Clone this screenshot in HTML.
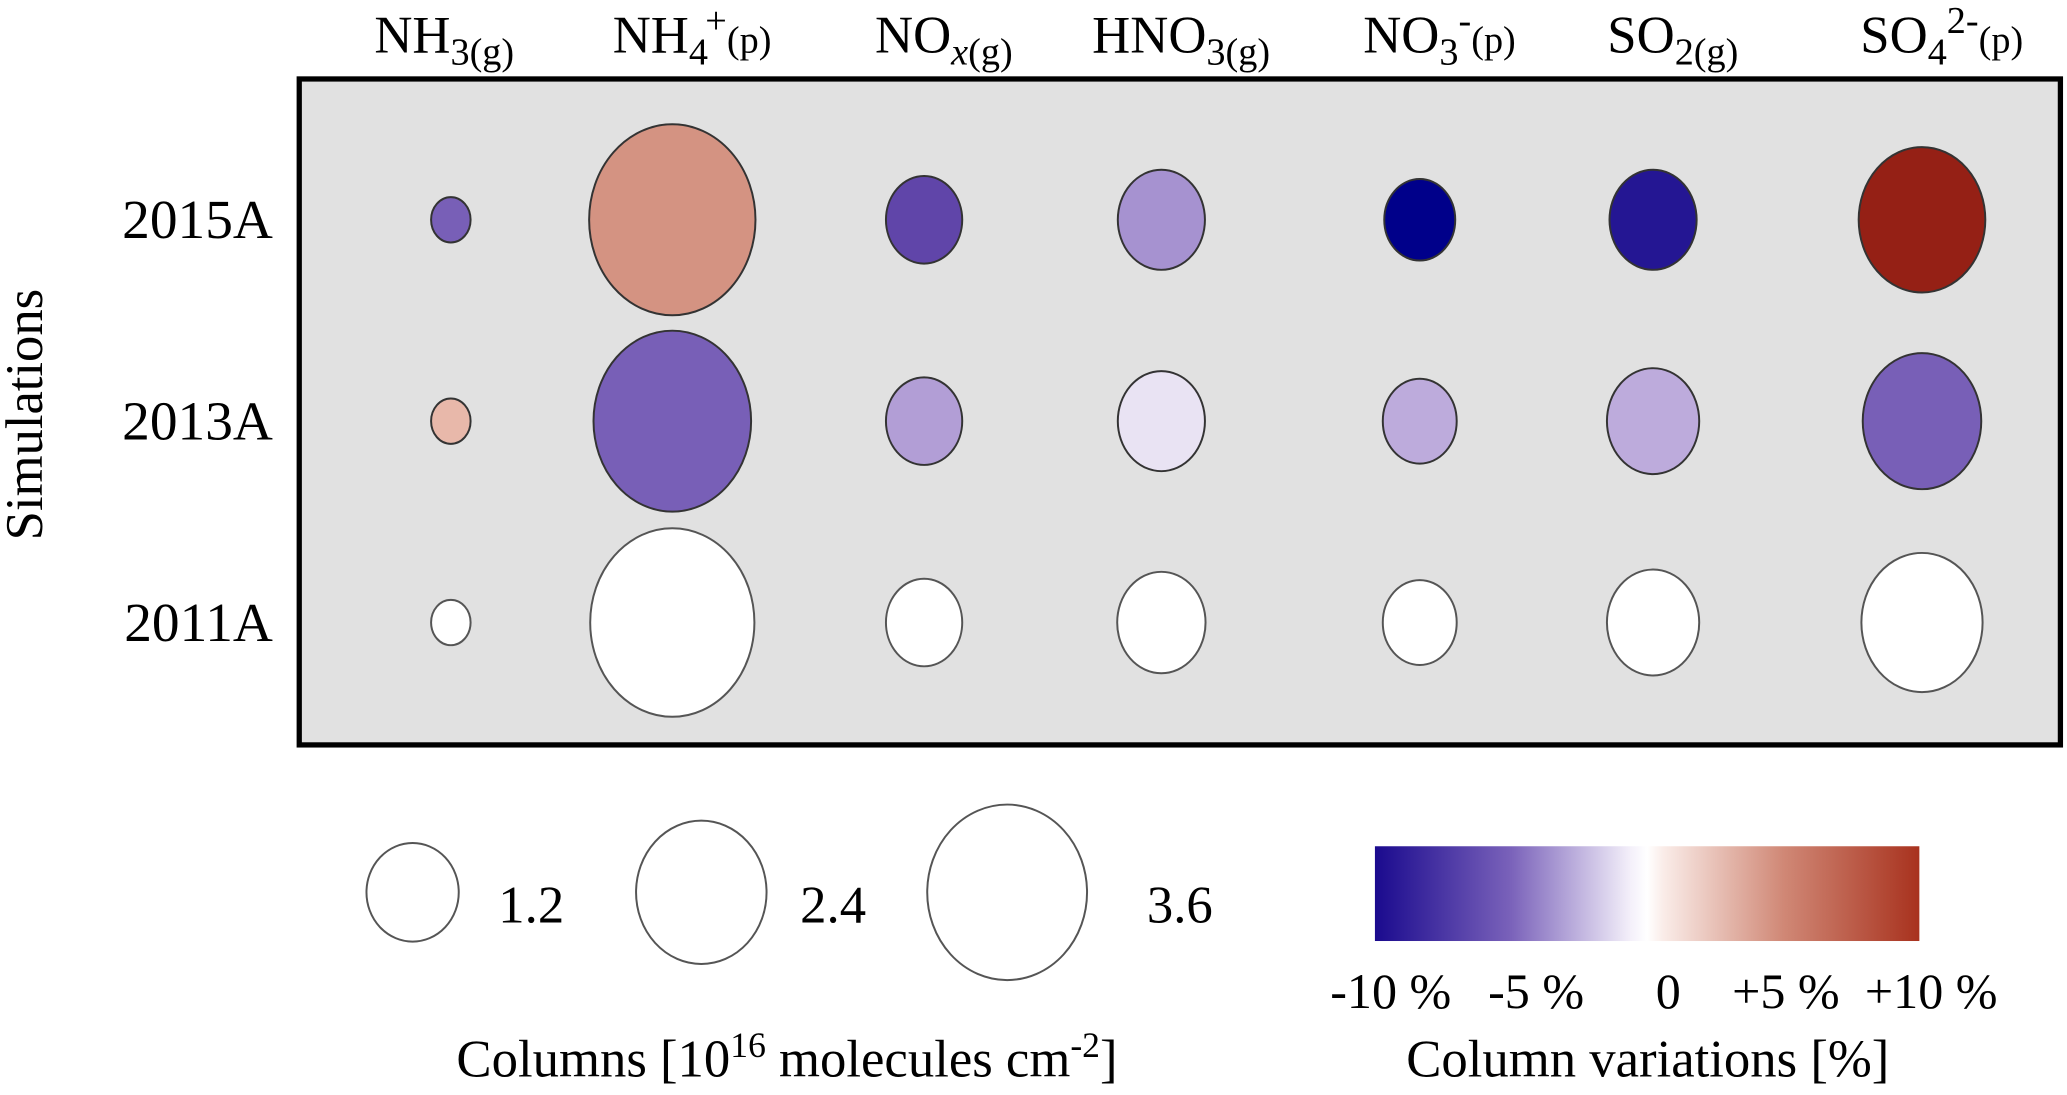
<!DOCTYPE html>
<html><head><meta charset="utf-8"><style>
html,body{margin:0;padding:0;background:#fff;}
svg{display:block;}
svg text{font-family:"Liberation Serif","Times New Roman","DejaVu Serif",serif;}
</style></head><body>
<svg id="chart" width="2067" height="1095" viewBox="0 0 1568 832" preserveAspectRatio="none" xmlns="http://www.w3.org/2000/svg">
<defs>
<linearGradient id="cbar" x1="0" x2="1" y1="0" y2="0">
<stop offset="0" stop-color="#1a0a8e"/><stop offset="0.25" stop-color="#7a62ba"/>
<stop offset="0.47" stop-color="#f4f0fa"/><stop offset="0.5" stop-color="#ffffff"/>
<stop offset="0.53" stop-color="#faece8"/><stop offset="0.75" stop-color="#d08876"/>
<stop offset="1" stop-color="#a8321e"/>
</linearGradient>
</defs>
<rect x="227" y="60" width="1336" height="506" fill="#e1e1e1" stroke="#000" stroke-width="4"/>
<text transform="translate(32,315) rotate(-90)" text-anchor="middle" font-size="40">Simulations</text>
<g id="headers"></g>
<g id="rows"></g>
<g id="bubbles"></g>
<g id="size-legend"></g>
<rect x="1043" y="643" width="413" height="72" fill="url(#cbar)"/>
<g id="cbar-ticks"></g>
<text x="597" y="818" text-anchor="middle" font-size="40">Columns [10<tspan dy="-15" font-size="27">16</tspan><tspan dy="15"> molecules cm</tspan><tspan dy="-15" font-size="27">-2</tspan><tspan dy="15">]</tspan></text>
<text x="1250" y="818" text-anchor="middle" font-size="40">Column variations [%]</text>
</svg>
<script>
const species = ["NH3","NH4","NOx","HNO3","NO3","SO2","SO4"];
const simulations = ["2015A","2013A","2011A"];
// columns [10^16 molecules cm^-2]
const columns2015 = [0.22,3.9,0.82,1.07,0.71,1.07,2.26];
const columns2013 = [0.22,3.5,0.82,1.07,0.77,1.2,1.98];
const columns2011 = [0.22,3.8,0.82,1.1,0.77,1.2,2.07];
// variations [%]
const var2015 = [-6,5,-7,-4,-10,-9,10];
const var2013 = [2.5,-6,-3.5,-1,-3,-3,-6];
const var2011 = [0,0,0,0,0,0,0];
const legendSizes = [1.2,2.4,3.6];
const cbarTicks = [-10,-5,0,5,10];
const cbarTickLabels = ["-10 %","-5 %","0","+5 %","+10 %"];

const NS="http://www.w3.org/2000/svg";
const xs = [342,510,701,881,1077,1254,1458];
const colCenter = i => xs[i];
const rowY = j => 167 + j*153;
const rx = v => 35*Math.sqrt(v/1.2);
const ryF = 1.15;
const stops=[[-10,[0,0,138]],[-8,[72,44,156]],[-5,[144,120,196]],[-2.5,[200,184,226]],[0,[255,255,255]],[2.5,[232,184,170]],[5,[212,147,130]],[10,[149,32,21]]];
function color(v){
  v=Math.max(-10,Math.min(10,v));
  for(let k=0;k<stops.length-1;k++){
    const a=stops[k],b=stops[k+1];
    if(v<=b[0]){const t=(v-a[0])/(b[0]-a[0]);
      const c=a[1].map((x,i)=>Math.round(x+(b[1][i]-x)*t));
      return `rgb(${c.join(',')})`;}
  }
  return "rgb(149,32,21)";
}
function mk(tag,attrs,parent){const e=document.createElementNS(NS,tag);for(const k in attrs)e.setAttribute(k,attrs[k]);parent.appendChild(e);return e;}
const hdrHTML=[
 'NH<tspan dy="9" font-size="29">3(g)</tspan>',
 'NH<tspan dy="9" font-size="29">4</tspan><tspan dx="-2" dy="-24" font-size="29">+</tspan><tspan dy="15" font-size="29">(p)</tspan>',
 'NO<tspan dy="9" font-size="29" font-style="italic">x</tspan><tspan font-size="29">(g)</tspan>',
 'HNO<tspan dy="9" font-size="29">3(g)</tspan>',
 'NO<tspan dy="9" font-size="29">3</tspan><tspan dy="-24" font-size="29">-</tspan><tspan dy="15" font-size="29">(p)</tspan>',
 'SO<tspan dy="9" font-size="29">2(g)</tspan>',
 'SO<tspan dy="9" font-size="29">4</tspan><tspan dy="-24" font-size="29">2-</tspan><tspan dy="15" font-size="29">(p)</tspan>'];
const hg=document.getElementById('headers');
species.forEach((s,i)=>{
  const t=mk('text',{x:colCenter(i)+(i===0?-5:15),y:40,'text-anchor':'middle','font-size':40},hg);
  
  
  t.innerHTML=hdrHTML[i];
});
const rg=document.getElementById('rows');
simulations.forEach((s,j)=>{
  const t=mk('text',{x:207,y:rowY(j)+14,'text-anchor':'end','font-size':42},rg);
  
  
  t.textContent=s;
});
const cols=[columns2015,columns2013,columns2011];
const vars=[var2015,var2013,var2011];
const bg=document.getElementById('bubbles');
simulations.forEach((s,j)=>{
  species.forEach((sp,i)=>{
    const r=rx(cols[j][i]);
    const e=mk('ellipse',{cx:colCenter(i),cy:rowY(j),rx:r,ry:r*ryF,fill:color(vars[j][i]),stroke:j===2?'#555':'#333','stroke-width':1.5},bg);
    
    
  });
});
const lg=document.getElementById('size-legend');
const legX=[313,532,764];
const legLblX=[378,607,870];
legendSizes.forEach((v,i)=>{
  const r=rx(v);
  const e=mk('ellipse',{cx:legX[i],cy:678,rx:r,ry:r*(i===0?1.07:1.1),fill:'#fff',stroke:'#555','stroke-width':1.5},lg);
  
  
  const t=mk('text',{x:legLblX[i],y:701,'font-size':40},lg);
  
  
  t.textContent=v.toFixed(1);
});
const cg=document.getElementById('cbar-ticks');
const cx = v => 1043 + (v+10)/20*413;
const tickShift=[12,19,16,2,9];
cbarTicks.forEach((v,i)=>{
  const x=cx(v);
  const t=mk('text',{x:x+tickShift[i],y:766,'text-anchor':'middle','font-size':38},cg);
  
  
  t.textContent=cbarTickLabels[i];
});
</script>
</body></html>
